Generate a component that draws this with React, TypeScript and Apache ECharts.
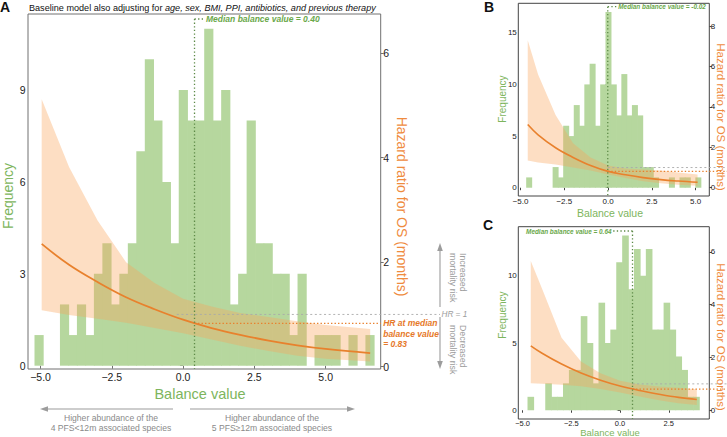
import React, { useEffect, useRef } from "react";
import * as echarts from "echarts";

const FONT = "'Liberation Sans', Arial, Helvetica, sans-serif";

// ===== Panel A data =====
const A_BIN_START = -5.2;
const A_BIN_WIDTH = 0.2976;
const A_COUNTS = [1, 0, 0, 2, 1, 2, 1, 3, 4, 2, 3, 4, 7, 10, 8, 6, 4, 9, 8, 8, 11, 8, 9, 2, 3, 8, 4, 4, 3, 3, 1, 3, 0, 1, 1, 1, 0, 1, 0, 1];
const A_CURVE_X = [-4.96, -4, -3, -2, -1, 0, 1, 2, 3, 4, 5, 6.56];
const A_HR = [2.35, 1.95, 1.62, 1.33, 1.1, 0.9, 0.74, 0.61, 0.5, 0.41, 0.34, 0.26];
const A_HR_UPPER = [5.12, 3.82, 2.8, 2.0, 1.6, 1.3, 1.15, 1.03, 0.95, 0.87, 0.8, 0.72];
const A_HR_LOWER = [1.08, 0.99, 0.92, 0.84, 0.74, 0.64, 0.52, 0.4, 0.3, 0.21, 0.15, 0.1];
const A_MEDIAN = 0.4;
const A_HR_AT_MEDIAN = 0.83;
const A_HR1_FROM = -0.22;
const A_X_TICKS = [-5, -2.5, 0, 2.5, 5];
const A_FREQ_TICKS = [0, 3, 6, 9];
const A_HR_TICKS = [0, 2, 4, 6];

// ===== Panel B data =====
const B_BIN_START = -4.66;
const B_BIN_WIDTH = 0.302;
const B_COUNTS = [1, 0, 0, 0, 0, 2, 1, 6, 5, 8, 6, 10, 12, 6, 10, 17, 10, 7, 11, 7, 8, 7, 2, 2, 1, 0, 0, 1, 0, 1, 1, 0, 1];
const B_CURVE_X = [-4.59, -4, -3, -2, -1, 0, 1, 2, 3, 4, 5.11];
const B_HR = [3.13, 2.62, 1.98, 1.5, 1.1, 0.81, 0.64, 0.5, 0.4, 0.33, 0.27];
const B_HR_UPPER = [7.3, 5.6, 3.6, 2.2, 1.5, 1.1, 0.95, 0.9, 0.85, 0.75, 0.65];
const B_HR_LOWER = [1.35, 1.25, 1.15, 1.0, 0.85, 0.65, 0.48, 0.32, 0.22, 0.15, 0.1];
const B_MEDIAN = -0.02;
const B_HR_AT_MEDIAN = 0.81;
const B_X_TICKS = [-5, -2.5, 0, 2.5, 5];
const B_FREQ_TICKS = [0, 5, 10, 15];
const B_HR_TICKS = [0, 2, 4, 6, 8];

// ===== Panel C data =====
const C_BIN_START = -4.73;
const C_BIN_WIDTH = 0.3036;
const C_COUNTS = [1, 0, 0, 2, 1, 1, 2, 3, 3, 7, 5, 2, 8, 5, 6, 11, 13, 9, 12, 10, 12, 6, 6, 8, 6, 4, 3, 1, 1];
const C_CURVE_X = [-4.58, -4, -3, -2, -1, 0, 1, 2, 3, 3.94];
const C_HR = [2.44, 2.16, 1.75, 1.41, 1.14, 0.92, 0.75, 0.61, 0.49, 0.41];
const C_HR_UPPER = [5.65, 4.6, 2.75, 1.85, 1.4, 1.12, 0.98, 0.9, 0.85, 0.8];
const C_HR_LOWER = [1.02, 1.0, 0.97, 0.91, 0.81, 0.67, 0.52, 0.38, 0.27, 0.2];
const C_MEDIAN = 0.64;
const C_HR_AT_MEDIAN = 0.8;
const C_X_TICKS = [-5, -2.5, 0, 2.5];
const C_FREQ_TICKS = [0, 5, 10];
const C_HR_TICKS = [0, 2, 4, 6];

// ===== styles =====
const BAR = "#b6d79e";
const RIBBON = "rgba(249,164,90,0.36)";
const ORANGE = "#e8812d";
const ORANGE_TXT = "#e6792a";
const AXIS_ORANGE = "#ef8b3e";
const GREEN_TITLE = "#7db55d";
const GREEN_LABEL = "#6aa84a";
const MEDIAN_COL = "#5d8a47";
const GRAY = "#9c9c9c";

const LAYOUT = [
  { left: 28, top: 14, width: 352.7, height: 355, x: [-5.44, 6.93], freq: [-0.108, 11.48], hr: [-0.044, 6.75], border: "#707070", tickFont: 10.5, xTickFont: 10.5, tickLen: 3, margin: 2.5, xMargin: 2.5, lineW: 1.8 },
  { left: 518.3, top: 3.3, width: 191, height: 192.7, x: [-5.13, 5.78], freq: [-0.8, 17.85], hr: [-0.41, 9.13], border: "#444", tickFont: 8, xTickFont: 8, tickLen: 2.5, margin: 1.5, xMargin: 1.5, lineW: 1.6 },
  { left: 518.3, top: 226.7, width: 191, height: 192.3, x: [-5.22, 4.58], freq: [-0.65, 13.65], hr: [-0.33, 6.95], border: "#444", tickFont: 8, xTickFont: 7.5, tickLen: 2.5, margin: 1.5, xMargin: 0.5, lineW: 1.6 },
];

const PANELS = [
  { binStart: A_BIN_START, binWidth: A_BIN_WIDTH, counts: A_COUNTS, cx: A_CURVE_X, hr: A_HR, up: A_HR_UPPER, lo: A_HR_LOWER, median: A_MEDIAN, hrMed: A_HR_AT_MEDIAN, hr1From: A_HR1_FROM, xt: A_X_TICKS, ft: A_FREQ_TICKS, ht: A_HR_TICKS,
    ann: { labelSize: 8.5, side: "right", labelTop: 5, connector: 10, grayEnd: 440, orangeEnd: null as number | null, hrText: true } },
  { binStart: B_BIN_START, binWidth: B_BIN_WIDTH, counts: B_COUNTS, cx: B_CURVE_X, hr: B_HR, up: B_HR_UPPER, lo: B_HR_LOWER, median: B_MEDIAN, hrMed: B_HR_AT_MEDIAN, hr1From: B_MEDIAN, xt: B_X_TICKS, ft: B_FREQ_TICKS, ht: B_HR_TICKS,
    ann: { labelSize: 6.4, side: "right", labelTop: 3.4, connector: 9, grayEnd: 727, orangeEnd: 727 as number | null, hrText: false } },
  { binStart: C_BIN_START, binWidth: C_BIN_WIDTH, counts: C_COUNTS, cx: C_CURVE_X, hr: C_HR, up: C_HR_UPPER, lo: C_HR_LOWER, median: C_MEDIAN, hrMed: C_HR_AT_MEDIAN, hr1From: C_MEDIAN, xt: C_X_TICKS, ft: C_FREQ_TICKS, ht: C_HR_TICKS,
    ann: { labelSize: 6.4, side: "left", labelTop: 4.3, connector: 19.5, grayEnd: 727, orangeEnd: 727 as number | null, hrText: false } },
];

const fmtX = (v: number) => v.toFixed(1).replace("-", "\u2212");

function lineEl(x1: number, y1: number, x2: number, y2: number, stroke: string, lw: number, dash?: number[]) {
  return { type: "line", shape: { x1, y1, x2, y2 }, style: { stroke, lineWidth: lw, lineDash: dash } };
}

function txt(x: number, y: number, text: string, o: any) {
  return {
    type: "text", x, y, rotation: o.rot || 0, silent: true, z: 10,
    style: {
      text, fill: o.color, fontSize: o.size, fontFamily: FONT,
      fontWeight: o.weight || "normal", fontStyle: o.style || "normal",
      align: o.align || "center", verticalAlign: o.va || "middle", lineHeight: o.lh,
    },
  };
}

function arrow(x1: number, y1: number, x2: number, y2: number) {
  const dx = x2 - x1, dy = y2 - y1;
  const len = Math.sqrt(dx * dx + dy * dy);
  const ux = dx / len, uy = dy / len;
  const bx = x2 - ux * 8, by = y2 - uy * 8;
  const nx = -uy * 2.8, ny = ux * 2.8;
  return [
    { type: "line", silent: true, shape: { x1, y1, x2: bx, y2: by }, style: { stroke: GRAY, lineWidth: 1.1 } },
    { type: "polygon", silent: true, shape: { points: [[x2, y2], [bx + nx, by + ny], [bx - nx, by - ny]] }, style: { fill: GRAY } },
  ];
}

function buildOption() {
  const grid: any[] = [], xAxis: any[] = [], yAxis: any[] = [], series: any[] = [];
  PANELS.forEach((p, i) => {
    const L = LAYOUT[i];
    grid.push({ left: L.left, top: L.top, width: L.width, height: L.height, show: true, borderColor: L.border, borderWidth: 1, backgroundColor: "transparent" });
    const tickStyle = { show: true, length: L.tickLen, lineStyle: { color: L.border, width: 1 } };
    const lab = { color: "#222", fontSize: L.tickFont, fontFamily: FONT, margin: L.margin };
    xAxis.push({
      gridIndex: i, type: "value", min: L.x[0], max: L.x[1],
      splitLine: { show: false }, axisLine: { show: false },
      axisTick: { ...tickStyle, customValues: p.xt },
      axisLabel: { ...lab, fontSize: L.xTickFont, margin: L.xMargin, customValues: p.xt, formatter: fmtX },
    });
    yAxis.push({
      gridIndex: i, type: "value", position: "left", min: L.freq[0], max: L.freq[1],
      splitLine: { show: false }, axisLine: { show: false },
      axisTick: { ...tickStyle, customValues: p.ft },
      axisLabel: { ...lab, customValues: p.ft, formatter: (v: number) => String(v) },
    });
    yAxis.push({
      gridIndex: i, type: "value", position: "right", min: L.hr[0], max: L.hr[1],
      splitLine: { show: false }, axisLine: { show: false },
      axisTick: { ...tickStyle, customValues: p.ht },
      axisLabel: { ...lab, customValues: p.ht, formatter: (v: number) => String(v) },
    });
    const yF = i * 2, yH = i * 2 + 1;

    // histogram
    series.push({
      type: "custom", xAxisIndex: i, yAxisIndex: yF, z: 1, silent: true,
      data: p.counts.map((c, k) => [p.binStart + k * p.binWidth, p.binStart + (k + 1) * p.binWidth, c]),
      encode: { x: [0, 1], y: 2 },
      renderItem: (params: any, api: any) => {
        const c = api.value(2);
        if (!c) return null;
        const p0 = api.coord([api.value(0), 0]);
        const p1 = api.coord([api.value(1), c]);
        return { type: "rect", shape: { x: p0[0] - 0.35, y: p1[1], width: p1[0] - p0[0] + 0.7, height: p0[1] - p1[1] }, style: { fill: BAR } };
      },
    });

    // ribbon
    series.push({
      type: "custom", xAxisIndex: i, yAxisIndex: yH, z: 2, silent: true,
      data: p.cx.map((x, k) => [x, p.lo[k], p.up[k]]),
      encode: { x: 0, y: [1, 2] },
      renderItem: (params: any, api: any) => {
        if (params.dataIndex !== 0) return null;
        const pts: number[][] = [];
        p.cx.forEach((x, k) => pts.push(api.coord([x, p.up[k]])));
        for (let k = p.cx.length - 1; k >= 0; k--) pts.push(api.coord([p.cx[k], p.lo[k]]));
        return { type: "polygon", shape: { points: pts }, style: { fill: RIBBON } };
      },
    });

    // HR curve
    series.push({
      type: "line", xAxisIndex: i, yAxisIndex: yH, z: 3, silent: true,
      data: p.cx.map((x, k) => [x, p.hr[k]]),
      smooth: 0.4, showSymbol: false, symbol: "none",
      lineStyle: { color: ORANGE, width: L.lineW },
    });

    // annotations
    const a = p.ann;
    series.push({
      type: "custom", xAxisIndex: i, yAxisIndex: yH, z: 5, silent: true, clip: false,
      data: [[p.median, p.hrMed]],
      encode: { x: 0, y: 1 },
      renderItem: (params: any, api: any) => {
        const cs = params.coordSys;
        const m = api.coord([p.median, p.hrMed]);
        const one = api.coord([p.hr1From, 1]);
        const right = cs.x + cs.width;
        const yTop = cs.y + a.labelTop;
        const yBot = cs.y + cs.height;
        const kids: any[] = [];
        kids.push(lineEl(one[0], one[1], a.grayEnd, one[1], "#a9a9a9", 0.9, [2, 2.6]));
        kids.push(lineEl(m[0], m[1], a.orangeEnd == null ? right : a.orangeEnd, m[1], ORANGE, 1.3, [1.4, 2.1]));
        kids.push(lineEl(m[0], yTop, m[0], yBot, MEDIAN_COL, 1.3, [1.3, 2.3]));
        const cx = a.side === "right" ? m[0] + a.connector : m[0] - a.connector;
        kids.push(lineEl(m[0], yTop, cx, yTop, MEDIAN_COL, 1.3, [1.3, 2.3]));
        kids.push({
          type: "text", x: a.side === "right" ? cx + 1.5 : cx - 1.5, y: yTop,
          style: { text: "Median balance value = " + p.median.toFixed(2), fill: GREEN_LABEL, fontSize: a.labelSize, fontWeight: "bold", fontStyle: "italic", fontFamily: FONT, align: a.side === "right" ? "left" : "right", verticalAlign: "middle" },
        });
        if (a.hrText) {
          kids.push({
            type: "text", x: right + 2.5, y: m[1] - 5.3,
            style: { text: "HR at median\nbalance value\n= " + p.hrMed.toFixed(2), fill: ORANGE_TXT, fontSize: 8.5, fontWeight: "bold", fontStyle: "italic", fontFamily: FONT, align: "left", verticalAlign: "top", lineHeight: 10.4 },
          });
          kids.push({
            type: "text", x: a.grayEnd + 1.5, y: one[1],
            style: { text: "HR = 1", fill: GRAY, fontSize: 8.2, fontStyle: "italic", fontFamily: FONT, align: "left", verticalAlign: "middle" },
          });
        }
        return { type: "group", children: kids };
      },
    });
  });

  const graphic: any[] = [
    txt(5, 7, "A", { size: 14, weight: "bold", color: "#111" }),
    {
      type: "text", x: 29, y: 7.5, silent: true,
      style: {
        text: "{n|Baseline model also adjusting for }{i|age, sex, BMI, PPI, antibiotics, and previous therapy}",
        align: "left", verticalAlign: "middle",
        rich: {
          n: { fontSize: 9.1, fontFamily: FONT, fill: "#111" },
          i: { fontSize: 9.1, fontFamily: FONT, fontStyle: "italic", fill: "#111" },
        },
      },
    },
    txt(8, 196, "Frequency", { size: 14, color: GREEN_TITLE, rot: Math.PI / 2 }),
    txt(200, 394, "Balance value", { size: 14.5, color: GREEN_TITLE }),
    txt(402, 206.5, "Hazard ratio for OS (months)", { size: 14, color: AXIS_ORANGE, rot: -Math.PI / 2 }),
    ...arrow(440, 307, 440, 243),
    ...arrow(440, 317, 440, 369),
    ...arrow(173, 409, 40, 409),
    ...arrow(190, 409, 355, 409),
    txt(458, 253, "Increased\nmortality risk", { size: 8.8, color: GRAY, rot: -Math.PI / 2, align: "left", lh: 10 }),
    txt(458, 325, "Decreased\nmortality risk", { size: 8.8, color: GRAY, rot: -Math.PI / 2, align: "left", lh: 10 }),
    txt(111, 422.7, "Higher abundance of the\n4 PFS<12m associated species", { size: 8.6, color: "#8a8a8a", lh: 10 }),
    txt(272, 422.7, "Higher abundance of the\n5 PFS\u226512m associated species", { size: 8.6, color: "#8a8a8a", lh: 10 }),

    txt(489, 7, "B", { size: 14, weight: "bold", color: "#111" }),
    txt(502, 99, "Frequency", { size: 10, color: GREEN_TITLE, rot: Math.PI / 2 }),
    txt(610, 212.5, "Balance value", { size: 10.5, color: GREEN_TITLE }),
    txt(721, 117, "Hazard ratio for OS (months)", { size: 11.5, color: AXIS_ORANGE, rot: -Math.PI / 2 }),

    txt(488, 225, "C", { size: 14, weight: "bold", color: "#111" }),
    txt(502, 315, "Frequency", { size: 10, color: GREEN_TITLE, rot: Math.PI / 2 }),
    txt(610, 432.3, "Balance value", { size: 9.5, color: GREEN_TITLE, lh: 9.5 }),
    txt(721, 337, "Hazard ratio for OS (months)", { size: 11.5, color: AXIS_ORANGE, rot: -Math.PI / 2 }),
  ];

  return { animation: false, backgroundColor: "#fff", grid, xAxis, yAxis, series, graphic };
}

export default function App() {
  const ref = useRef<HTMLDivElement>(null);
  useEffect(() => {
    const chart = echarts.init(ref.current!, null, { renderer: "svg" });
    chart.setOption(buildOption() as any);
    return () => chart.dispose();
  }, []);
  return <div ref={ref} style={{ width: 727, height: 437, position: "absolute", left: 0, top: 0 }} />;
}
